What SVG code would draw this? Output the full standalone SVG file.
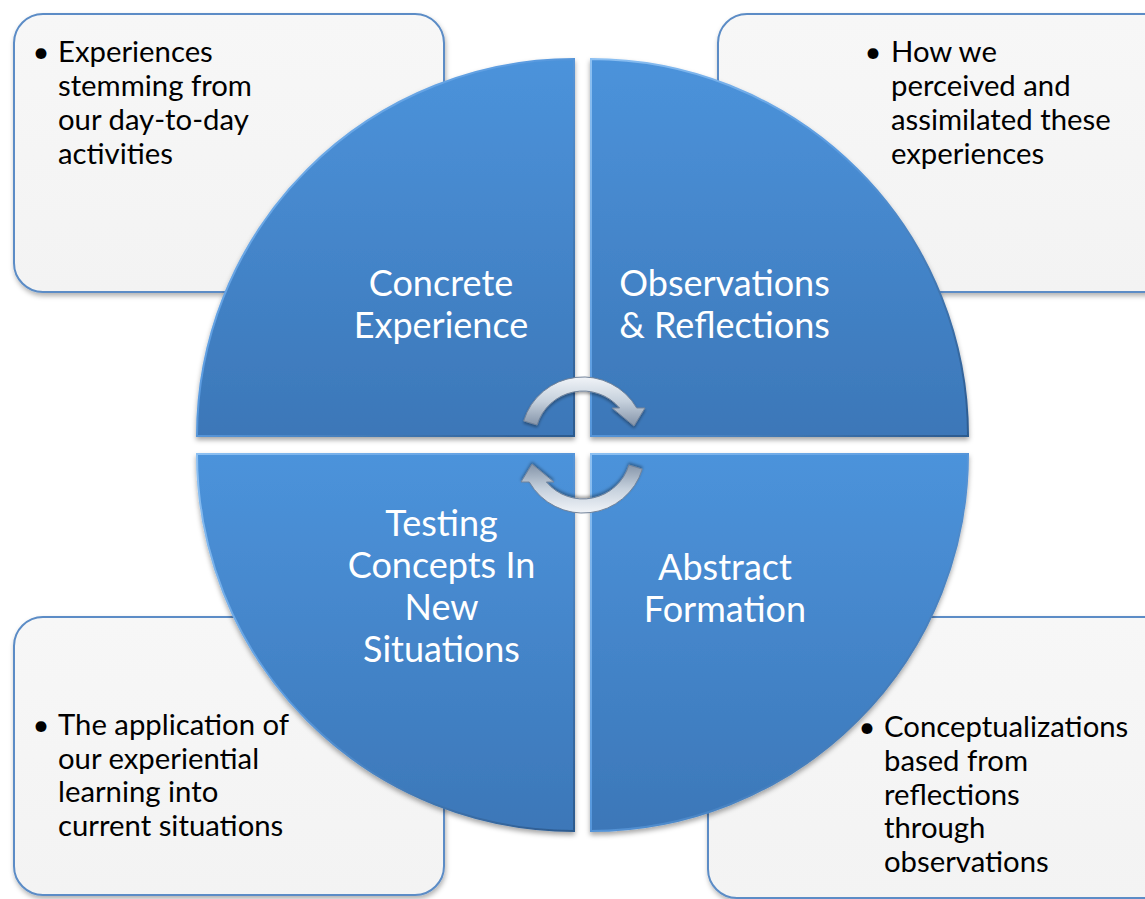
<svg xmlns="http://www.w3.org/2000/svg" width="1145" height="899" viewBox="0 0 1145 899">
  <defs>
    <linearGradient id="boxFill" x1="0" y1="0" x2="0" y2="1">
      <stop offset="0" stop-color="#f7f7f7"/>
      <stop offset="1" stop-color="#f3f3f3"/>
    </linearGradient>
    <linearGradient id="quadFill" x1="0" y1="0" x2="0" y2="1">
      <stop offset="0" stop-color="#4c93db"/>
      <stop offset="1" stop-color="#3c77b8"/>
    </linearGradient>
    <linearGradient id="bevel" x1="0" y1="0" x2="1" y2="1">
      <stop offset="0" stop-color="#8cc0f2"/>
      <stop offset="0.45" stop-color="#5a9be0"/>
      <stop offset="1" stop-color="#2c5a8e"/>
    </linearGradient>
    <linearGradient id="arrowFill" x1="0" y1="0" x2="0" y2="1">
      <stop offset="0" stop-color="#f1f4f8"/>
      <stop offset="0.5" stop-color="#c5d0dc"/>
      <stop offset="1" stop-color="#8393a8"/>
    </linearGradient>
    <filter id="boxShadow" x="-10%" y="-10%" width="120%" height="125%">
      <feDropShadow dx="1" dy="3" stdDeviation="2.5" flood-color="#000" flood-opacity="0.3"/>
    </filter>
    <filter id="quadShadow" x="-10%" y="-10%" width="120%" height="125%">
      <feDropShadow dx="0" dy="3" stdDeviation="2.5" flood-color="#000" flood-opacity="0.35"/>
    </filter>
    <filter id="arrowShadow" x="-20%" y="-20%" width="140%" height="150%">
      <feDropShadow dx="0" dy="2" stdDeviation="1.5" flood-color="#000" flood-opacity="0.35"/>
    </filter>
  </defs>
  <style>
    .box { fill: url(#boxFill); stroke: #5b8cc6; stroke-width: 2; filter: url(#boxShadow); }
    .quad { fill: url(#quadFill); stroke: url(#bevel); stroke-width: 2; filter: url(#quadShadow); }
    .arrow { fill: url(#arrowFill); stroke: #72839a; stroke-width: 1; filter: url(#arrowShadow); }
    .note { font-family: Lato, "Liberation Sans", sans-serif; font-size: 29.3px; fill: #000; }
    .label { font-family: Lato, "Liberation Sans", sans-serif; font-size: 36px; fill: #fff; text-anchor: middle; }
    .bullet { text-anchor: middle; }
  </style>

  <!-- description boxes behind the cycle -->
  <g id="box-concrete">
    <rect class="box" x="14" y="14" width="430" height="278" rx="29"/>
    <text class="note"><tspan class="bullet" x="41" y="62">•</tspan><tspan x="58" y="62">Experiences</tspan><tspan x="58" y="96">stemming from</tspan><tspan x="58" y="130">our day-to-day</tspan><tspan x="58" y="164">activities</tspan></text>
  </g>
  <g id="box-observations">
    <rect class="box" x="718" y="14" width="460" height="278" rx="29"/>
    <text class="note"><tspan class="bullet" x="873" y="62">•</tspan><tspan x="891" y="62">How we</tspan><tspan x="891" y="96">perceived and</tspan><tspan x="891" y="130">assimilated these</tspan><tspan x="891" y="164">experiences</tspan></text>
  </g>
  <g id="box-testing">
    <rect class="box" x="14" y="617" width="430" height="278" rx="29"/>
    <text class="note"><tspan class="bullet" x="41" y="735">•</tspan><tspan x="58" y="735">The application of</tspan><tspan x="58" y="769">our experiential</tspan><tspan x="58" y="802">learning into</tspan><tspan x="58" y="836">current situations</tspan></text>
  </g>
  <g id="box-abstract">
    <rect class="box" x="708" y="617" width="470" height="281" rx="29"/>
    <text class="note"><tspan class="bullet" x="867" y="737">•</tspan><tspan x="884" y="737">Conceptualizations</tspan><tspan x="884" y="771">based from</tspan><tspan x="884" y="805">reflections</tspan><tspan x="884" y="838">through</tspan><tspan x="884" y="872">observations</tspan></text>
  </g>

  <!-- the four quadrants of the cycle -->
  <g id="quad-concrete">
    <path class="quad" d="M574,436 L197,436 A377,377 0 0 1 574,59 Z"/>
    <text class="label"><tspan x="441" y="296">Concrete</tspan><tspan x="441" y="338">Experience</tspan></text>
  </g>
  <g id="quad-observations">
    <path class="quad" d="M591,436 L591,59 A377,377 0 0 1 968,436 Z"/>
    <text class="label"><tspan x="724.5" y="296">Observations</tspan><tspan x="724.5" y="338">&amp; Reflections</tspan></text>
  </g>
  <g id="quad-abstract">
    <path class="quad" d="M591,454 L968,454 A377,377 0 0 1 591,831 Z"/>
    <text class="label"><tspan x="725" y="580">Abstract</tspan><tspan x="725" y="622">Formation</tspan></text>
  </g>
  <g id="quad-testing">
    <path class="quad" d="M574,454 L574,831 A377,377 0 0 1 197,454 Z"/>
    <text class="label"><tspan x="441.5" y="536">Testing</tspan><tspan x="441.5" y="578">Concepts In</tspan><tspan x="441.5" y="620">New</tspan><tspan x="441.5" y="662">Situations</tspan></text>
  </g>

  <!-- circular arrows at the centre -->
  <g id="connectors">
    <path id="arrow-top" class="arrow" d="M523.7,420.9 A62,62 0 0 1 636.7,408 L645,408 L634,426 L612,408 L619.6,408 A48,48 0 0 0 537.1,425 Z"/>
    <path id="arrow-bottom" class="arrow" transform="rotate(180 583 445)" d="M523.7,420.9 A62,62 0 0 1 636.7,408 L645,408 L634,426 L612,408 L619.6,408 A48,48 0 0 0 537.1,425 Z"/>
  </g>
</svg>
